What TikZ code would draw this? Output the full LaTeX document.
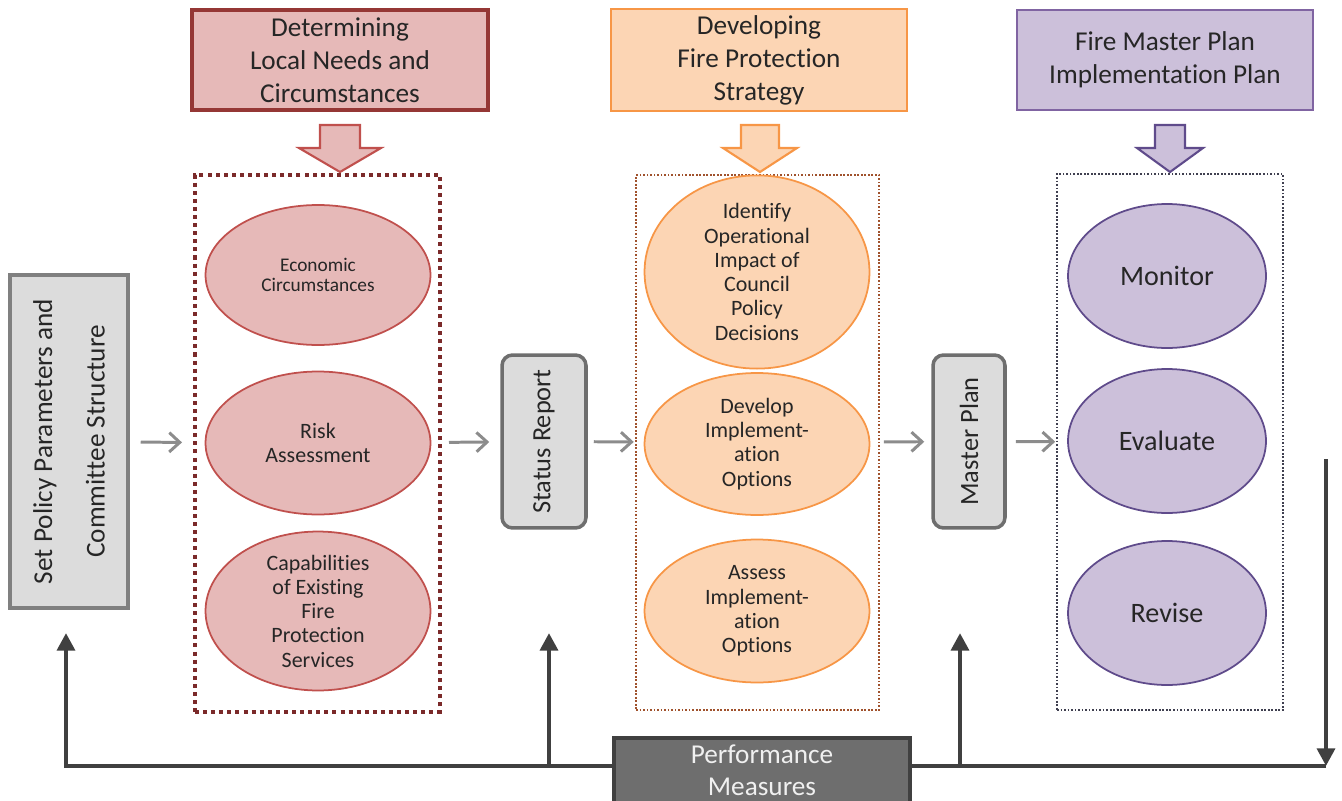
\documentclass[tikz,border=0pt]{standalone}
\usepackage{fontspec}
\setmainfont{Carlito}[Ligatures=NoCommon]
\usetikzlibrary{arrows.meta,shapes.geometric}

\definecolor{redbd}{HTML}{953735}
\definecolor{redfill}{HTML}{E6B9B8}
\definecolor{redline}{HTML}{C0504D}
\definecolor{reddot}{HTML}{7B2A2A}
\definecolor{orbd}{HTML}{F79646}
\definecolor{orfill}{HTML}{FCD5B4}
\definecolor{ordot}{HTML}{A0522D}
\definecolor{purbd}{HTML}{8064A2}
\definecolor{purfill}{HTML}{CCC0DA}
\definecolor{purline}{HTML}{5F4B8B}
\definecolor{purdot}{HTML}{404050}
\definecolor{grayfill}{HTML}{DCDCDC}
\definecolor{graybd}{HTML}{808080}
\definecolor{flowgray}{HTML}{8C8C8C}
\definecolor{fbgray}{HTML}{404040}
\definecolor{perffill}{HTML}{6E6E6E}
\definecolor{txt}{HTML}{262626}

\tikzset{pics/dnblock/.style n args={2}{code={
  \path[pic actions] (-#1,0) -- (#1,0) -- (#1,23) -- (#2,23) -- (0,47) -- (-#2,23) -- (-#1,23) -- cycle;}}}

\begin{document}
\begin{tikzpicture}[x=0.02cm,y=-0.02cm,
  title/.style={draw,rectangle,minimum width=5.92cm,minimum height=2cm,align=center,text=txt,font=\fontsize{15.5}{18.8}\selectfont},
  group/.style={draw,rectangle,minimum width=4.86cm,minimum height=10.72cm},
  grbox/.style={draw=graybd,fill=grayfill,rectangle,line width=2pt,rotate=90,align=center,text=txt,font=\fontsize{15}{18}\selectfont},
  ell/.style={ellipse,line width=1pt,minimum width=4.5cm,minimum height=2.86cm,inner sep=0pt,align=center,text=txt,font=\fontsize{12.5}{13.8}\selectfont},
  redell/.style={ell,draw=redline,fill=redfill},
  orell/.style={ell,draw=orbd,fill=orfill},
  purell/.style={ell,draw=purline,fill=purfill,minimum width=3.96cm,minimum height=2.88cm,font=\fontsize{16}{19}\selectfont},
  flow/.style={draw=flowgray,line width=1.7pt,-{Straight Barb[length=6pt,width=11pt]}},
  fb/.style={draw=fbgray,line width=2.5pt},
  fbarrow/.style={fb,-{Triangle[length=10pt,width=10pt]}}]
  \useasboundingbox (0,0) rectangle (1342,801);

  \node[title,draw=redbd,fill=redfill,line width=2.3pt] (need) at (340,60) {Determining\\Local Needs and\\Circumstances};
  \node[title,draw=orbd,fill=orfill,line width=1.2pt] (strat) at (759,60) {Developing\\Fire Protection\\Strategy};
  \node[title,draw=purbd,fill=purfill,line width=1.2pt] (impl) at (1165,60) {Fire Master Plan\\Implementation Plan};

  \pic[draw=redline,fill=redfill,line width=1.2pt] at (340,125) {dnblock={20}{41}};
  \pic[draw=orbd,fill=orfill,line width=1.2pt] at (760,125) {dnblock={19}{37}};
  \pic[draw=purline,fill=purfill,line width=1.2pt] at (1170,125) {dnblock={15}{33}};

  \node[group,draw=reddot,line width=2.3pt,dash pattern=on 2.3pt off 2.3pt,minimum width=4.9cm,minimum height=10.74cm] (box1) at (317.5,443.5) {};
  \node[group,draw=ordot,line width=0.9pt,dash pattern=on 1pt off 1pt,minimum height=10.7cm] (box2) at (757.5,442.5) {};
  \node[group,draw=purdot,line width=0.9pt,dash pattern=on 1pt off 1pt,minimum width=4.52cm] (box3) at (1170,442) {};

  \node[redell,font=\fontsize{11}{11.6}\selectfont,minimum height=2.8cm] (eco) at (318,275) {Economic\\Circumstances};
  \node[redell] (risk) at (318,443) {Risk\\Assessment};
  \node[redell] (capab) at (318,611) {Capabilities\\of Existing\\Fire\\Protection\\Services};

  \node[orell,minimum height=3.3cm] (ident) at (757,272) {Identify\\Operational\\Impact of\\Council\\Policy\\Decisions};
  \node[orell,minimum height=2.84cm] (devel) at (757,444) {Develop\\Implement-\\ation\\Options};
  \node[orell] (assess) at (757,611) {Assess\\Implement-\\ation\\Options};

  \node[purell] (monitor) at (1167,276) {Monitor};
  \node[purell] (evaluate) at (1167,441) {Evaluate};
  \node[purell] (revise) at (1167,613) {Revise};

  \node[grbox,minimum width=6.66cm,minimum height=2.36cm,font=\fontsize{15.5}{30}\selectfont] (setpol) at (69,441.5) {Set Policy Parameters and\\Committee Structure};
  \node[grbox,draw=perffill,rounded corners=6pt,minimum width=3.46cm,minimum height=1.68cm] (status) at (544,441.5) {Status Report};
  \node[grbox,draw=perffill,rounded corners=6pt,minimum width=3.46cm,minimum height=1.44cm] (master) at (969,441.5) {Master Plan};

  \draw[flow,shorten <=0.22cm,shorten >=0.22cm] (setpol) -- (box1);
  \draw[flow,shorten <=0.14cm,shorten >=0.22cm] (box1) -- (status);
  \draw[flow,shorten <=0.12cm,shorten >=0.03cm] (status) -- (box2);
  \draw[flow,shorten <=0.08cm,shorten >=0.14cm] (box2) -- (master);
  \draw[flow,shorten <=0.18cm,shorten >=0.02cm] (master) -- (box3);

  \coordinate (fbL) at (66,766);
  \coordinate (fbR) at (1326,766);
  \coordinate (tipA) at (66,633);
  \coordinate (tipB) at (549,633);
  \coordinate (tipC) at (960,633);
  \coordinate (dn) at (1326,459);
  \draw[fbarrow] (fbR) -- (fbL) -- (tipA);
  \draw[fbarrow] (tipB |- fbL) -- (tipB);
  \draw[fbarrow] (tipC |- fbL) -- (tipC);
  \draw[fbarrow] (dn) -- (fbR);

  \node[draw=fbgray,fill=perffill,line width=1.8pt,minimum width=5.92cm,minimum height=1.3cm,align=center,text=white!94!black,font=\fontsize{15.5}{18.2}\selectfont] (perf) at (762,770.5) {Performance\\Measures};
\end{tikzpicture}
\end{document}
